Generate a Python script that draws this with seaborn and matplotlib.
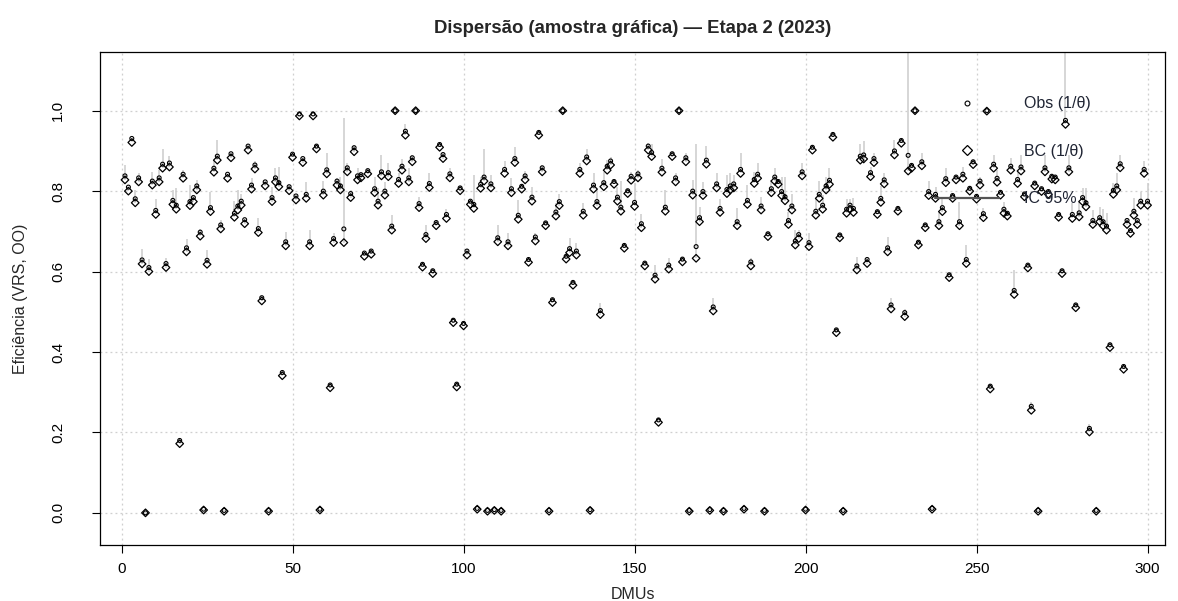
import numpy as np
import pandas as pd
import seaborn as sns
import matplotlib.pyplot as plt
from matplotlib.lines import Line2D

# DMU index 1..300
dmu = list(range(1, 301))

# bias-corrected efficiency (1/theta)
bc = [0.828, 0.800, 0.921, 0.771, 0.823, 0.619, 0.000, 0.600, 0.815, 0.742,
      0.823, 0.857, 0.610, 0.860, 0.767, 0.755, 0.172, 0.832, 0.649, 0.764,
      0.774, 0.803, 0.688, 0.007, 0.618, 0.749, 0.847, 0.877, 0.706, 0.004,
      0.832, 0.883, 0.735, 0.753, 0.765, 0.719, 0.902, 0.805, 0.855, 0.697,
      0.527, 0.813, 0.004, 0.774, 0.823, 0.811, 0.341, 0.664, 0.801, 0.884,
      0.778, 0.987, 0.871, 0.782, 0.664, 0.987, 0.905, 0.007, 0.790, 0.843,
      0.311, 0.672, 0.815, 0.803, 0.672, 0.848, 0.784, 0.898, 0.828, 0.833,
      0.638, 0.843, 0.643, 0.796, 0.765, 0.838, 0.790, 0.836, 0.703, 1.000,
      0.819, 0.852, 0.939, 0.823, 0.873, 1.000, 0.759, 0.611, 0.682, 0.809,
      0.595, 0.714, 0.909, 0.881, 0.732, 0.833, 0.473, 0.313, 0.801, 0.465,
      0.641, 0.767, 0.757, 0.009, 0.807, 0.825, 0.004, 0.808, 0.006, 0.674,
      0.004, 0.844, 0.664, 0.796, 0.871, 0.730, 0.805, 0.828, 0.623, 0.775,
      0.676, 0.939, 0.848, 0.714, 0.004, 0.523, 0.738, 0.764, 1.000, 0.631,
      0.647, 0.566, 0.641, 0.844, 0.740, 0.875, 0.006, 0.805, 0.764, 0.493,
      0.811, 0.852, 0.865, 0.817, 0.775, 0.750, 0.658, 0.794, 0.827, 0.762,
      0.833, 0.709, 0.614, 0.902, 0.886, 0.581, 0.225, 0.847, 0.750, 0.606,
      0.886, 0.823, 1.000, 0.624, 0.873, 0.004, 0.790, 0.633, 0.724, 0.789,
      0.867, 0.006, 0.502, 0.808, 0.747, 0.004, 0.794, 0.803, 0.808, 0.714,
      0.844, 0.009, 0.767, 0.614, 0.819, 0.832, 0.753, 0.004, 0.687, 0.796,
      0.825, 0.817, 0.789, 0.776, 0.717, 0.753, 0.666, 0.682, 0.838, 0.007,
      0.662, 0.902, 0.740, 0.782, 0.755, 0.803, 0.817, 0.934, 0.448, 0.684,
      0.004, 0.745, 0.755, 0.747, 0.604, 0.877, 0.880, 0.620, 0.836, 0.871,
      0.742, 0.772, 0.818, 0.649, 0.507, 0.890, 0.750, 0.919, 0.488, 0.850,
      0.857, 1.000, 0.666, 0.863, 0.709, 0.789, 0.009, 0.782, 0.714, 0.749,
      0.821, 0.585, 0.782, 0.828, 0.714, 0.832, 0.620, 0.800, 0.866, 0.780,
      0.815, 0.734, 0.999, 0.308, 0.857, 0.822, 0.790, 0.745, 0.738, 0.852,
      0.543, 0.819, 0.850, 0.786, 0.609, 0.255, 0.813, 0.004, 0.799, 0.848,
      0.792, 0.830, 0.828, 0.735, 0.595, 0.966, 0.848, 0.732, 0.510, 0.736,
      0.774, 0.761, 0.201, 0.717, 0.004, 0.724, 0.714, 0.703, 0.411, 0.792,
      0.803, 0.858, 0.357, 0.717, 0.695, 0.740, 0.717, 0.765, 0.844, 0.765]

# observed efficiency (1/theta)
obs = [0.838, 0.810, 0.931, 0.781, 0.833, 0.629, 0.000, 0.610, 0.825, 0.752,
       0.833, 0.867, 0.620, 0.870, 0.777, 0.765, 0.180, 0.842, 0.659, 0.774,
       0.784, 0.813, 0.698, 0.009, 0.628, 0.759, 0.857, 0.887, 0.716, 0.006,
       0.842, 0.893, 0.745, 0.763, 0.775, 0.729, 0.912, 0.815, 0.865, 0.707,
       0.535, 0.823, 0.006, 0.784, 0.833, 0.821, 0.349, 0.674, 0.811, 0.892,
       0.788, 0.992, 0.881, 0.792, 0.674, 0.992, 0.912, 0.009, 0.800, 0.853,
       0.318, 0.682, 0.825, 0.813, 0.706, 0.858, 0.794, 0.908, 0.838, 0.841,
       0.646, 0.851, 0.651, 0.806, 0.775, 0.848, 0.800, 0.846, 0.713, 1.000,
       0.829, 0.862, 0.949, 0.833, 0.883, 1.000, 0.769, 0.618, 0.692, 0.819,
       0.602, 0.722, 0.916, 0.891, 0.742, 0.843, 0.479, 0.320, 0.808, 0.471,
       0.651, 0.775, 0.767, 0.011, 0.817, 0.835, 0.006, 0.818, 0.008, 0.684,
       0.006, 0.854, 0.674, 0.806, 0.881, 0.740, 0.812, 0.838, 0.630, 0.785,
       0.686, 0.946, 0.858, 0.721, 0.006, 0.530, 0.748, 0.774, 1.000, 0.638,
       0.657, 0.573, 0.651, 0.854, 0.750, 0.885, 0.008, 0.815, 0.774, 0.503,
       0.821, 0.862, 0.875, 0.824, 0.785, 0.760, 0.665, 0.801, 0.837, 0.772,
       0.843, 0.719, 0.621, 0.912, 0.896, 0.591, 0.231, 0.857, 0.760, 0.616,
       0.893, 0.833, 1.000, 0.631, 0.883, 0.006, 0.800, 0.662, 0.734, 0.799,
       0.877, 0.008, 0.512, 0.818, 0.757, 0.006, 0.804, 0.813, 0.818, 0.724,
       0.854, 0.011, 0.777, 0.624, 0.829, 0.842, 0.763, 0.006, 0.694, 0.806,
       0.835, 0.824, 0.799, 0.786, 0.727, 0.763, 0.676, 0.692, 0.848, 0.009,
       0.672, 0.909, 0.750, 0.792, 0.765, 0.813, 0.827, 0.941, 0.455, 0.691,
       0.006, 0.755, 0.765, 0.757, 0.614, 0.887, 0.890, 0.630, 0.846, 0.881,
       0.749, 0.782, 0.828, 0.659, 0.517, 0.900, 0.757, 0.926, 0.498, 0.889,
       0.864, 1.000, 0.673, 0.873, 0.716, 0.799, 0.011, 0.792, 0.724, 0.759,
       0.831, 0.592, 0.789, 0.835, 0.724, 0.842, 0.630, 0.807, 0.873, 0.787,
       0.825, 0.744, 1.000, 0.315, 0.867, 0.832, 0.797, 0.755, 0.745, 0.862,
       0.553, 0.829, 0.860, 0.793, 0.616, 0.265, 0.820, 0.006, 0.806, 0.858,
       0.799, 0.837, 0.835, 0.742, 0.602, 0.976, 0.858, 0.742, 0.517, 0.746,
       0.784, 0.771, 0.210, 0.727, 0.006, 0.734, 0.724, 0.713, 0.418, 0.802,
       0.813, 0.868, 0.364, 0.727, 0.702, 0.750, 0.727, 0.775, 0.854, 0.775]

# upper bound of the 95% interval (lower bound sits under the BC marker)
ic_hi = [0.865, 0.810, 0.930, 0.803, 0.844, 0.656, 0.005, 0.631, 0.848, 0.780,
         0.852, 0.906, 0.634, 0.888, 0.803, 0.807, 0.180, 0.852, 0.682, 0.815,
         0.790, 0.828, 0.707, 0.010, 0.653, 0.799, 0.877, 0.927, 0.728, 0.008,
         0.840, 0.894, 0.775, 0.803, 0.794, 0.725, 0.915, 0.833, 0.875, 0.732,
         0.535, 0.820, 0.008, 0.811, 0.858, 0.861, 0.350, 0.699, 0.815, 0.890,
         0.790, 0.990, 0.883, 0.822, 0.703, 0.990, 0.910, 0.010, 0.825, 0.894,
         0.318, 0.695, 0.833, 0.836, 0.981, 0.871, 0.803, 0.915, 0.857, 0.840,
         0.645, 0.850, 0.653, 0.836, 0.807, 0.890, 0.823, 0.871, 0.740, 1.000,
         0.844, 0.881, 0.966, 0.857, 0.890, 1.000, 0.786, 0.618, 0.716, 0.844,
         0.600, 0.720, 0.915, 0.898, 0.755, 0.858, 0.478, 0.320, 0.805, 0.470,
         0.655, 0.775, 0.840, 0.012, 0.836, 0.904, 0.008, 0.840, 0.010, 0.717,
         0.008, 0.875, 0.695, 0.832, 0.910, 0.778, 0.810, 0.850, 0.630, 0.811,
         0.695, 0.945, 0.865, 0.720, 0.008, 0.530, 0.770, 0.792, 1.000, 0.637,
         0.684, 0.572, 0.672, 0.869, 0.770, 0.906, 0.010, 0.844, 0.803, 0.523,
         0.848, 0.877, 0.886, 0.823, 0.811, 0.825, 0.665, 0.800, 0.848, 0.819,
         0.852, 0.742, 0.620, 0.919, 0.917, 0.616, 0.230, 0.881, 0.803, 0.634,
         0.892, 0.844, 1.000, 0.630, 0.896, 0.008, 0.828, 0.916, 0.761, 0.822,
         0.913, 0.010, 0.533, 0.846, 0.780, 0.008, 0.840, 0.846, 0.840, 0.757,
         0.894, 0.012, 0.815, 0.634, 0.848, 0.869, 0.786, 0.008, 0.692, 0.828,
         0.857, 0.823, 0.836, 0.836, 0.749, 0.792, 0.703, 0.703, 0.871, 0.010,
         0.695, 0.908, 0.780, 0.825, 0.790, 0.836, 0.857, 0.940, 0.455, 0.690,
         0.008, 0.780, 0.780, 0.783, 0.637, 0.917, 0.925, 0.637, 0.861, 0.894,
         0.748, 0.812, 0.844, 0.687, 0.533, 0.927, 0.756, 0.925, 0.508, 1.200,
         0.865, 1.000, 0.672, 0.894, 0.715, 0.825, 0.012, 0.811, 0.745, 0.786,
         0.857, 0.590, 0.790, 0.835, 0.774, 0.861, 0.666, 0.806, 0.872, 0.786,
         0.836, 0.757, 1.000, 0.315, 0.891, 0.853, 0.796, 0.774, 0.745, 0.883,
         0.604, 0.848, 0.891, 0.792, 0.615, 0.276, 0.820, 0.008, 0.805, 0.890,
         0.800, 0.836, 0.835, 0.742, 0.600, 1.200, 0.890, 0.770, 0.516, 0.774,
         0.807, 0.807, 0.220, 0.753, 0.008, 0.761, 0.755, 0.745, 0.416, 0.819,
         0.844, 0.891, 0.362, 0.732, 0.700, 0.782, 0.736, 0.797, 0.875, 0.819]

df = pd.DataFrame({"dmu": dmu, "bc": bc, "obs": obs, "ic_hi": ic_hi})

sns.set_style("ticks")
plt.rcParams["font.family"] = ["Liberation Sans", "DejaVu Sans"]

fig = plt.figure(figsize=(11.78, 6.01), dpi=100)
ax = fig.add_axes([100 / 1178, 1 - 545 / 601, 1065 / 1178, 493 / 601])

# grid first so it stays behind
ax.grid(True, color="#cfcfcf", linestyle=(0, (1.5, 2.5)), linewidth=0.9)
ax.set_axisbelow(True)

# 95% intervals
ax.vlines(df["dmu"], df["bc"], df["ic_hi"], color="#cccccc", linewidth=1.1, zorder=2)

# BC diamonds and observed circles
sns.scatterplot(data=df, x="dmu", y="bc", marker="D", s=15, facecolor="none",
                edgecolor="black", linewidth=0.9, ax=ax, zorder=3)
sns.scatterplot(data=df, x="dmu", y="obs", marker="o", s=8, facecolor="none",
                edgecolor="black", linewidth=0.8, ax=ax, zorder=4)

ax.set_xlim(-6.3, 305.1)
ax.set_ylim(-0.080, 1.146)
ax.set_xticks([0, 50, 100, 150, 200, 250, 300])
ax.set_yticks([0.0, 0.2, 0.4, 0.6, 0.8, 1.0])
ax.set_yticklabels(["0.0", "0.2", "0.4", "0.6", "0.8", "1.0"], rotation=90, va="center")
ax.tick_params(direction="out", length=6, width=0.8, labelsize=11, colors="black")
ax.tick_params(axis="x", pad=6)
ax.tick_params(axis="y", pad=19)
for sp in ax.spines.values():
    sp.set_visible(True)
    sp.set_color("black")
    sp.set_linewidth(0.9)

ax.set_xlabel("DMUs", fontsize=11.5, labelpad=8)
ax.set_ylabel("Eficiência (VRS, OO)", fontsize=11.5, labelpad=17)
ax.set_title("Dispersão (amostra gráfica) — Etapa 2 (2023)", fontsize=13.3,
             fontweight="bold", pad=14)

handles = [
    Line2D([], [], marker="o", linestyle="none", markerfacecolor="none",
           markeredgecolor="black", markersize=3.5, markeredgewidth=0.8),
    Line2D([], [], marker="D", linestyle="none", markerfacecolor="none",
           markeredgecolor="black", markersize=5.5, markeredgewidth=0.9),
    Line2D([], [], color="#555555", linewidth=1.6),
]
ax.legend(handles, ["Obs (1/θ)", "BC (1/θ)", "IC 95%"], loc="upper left",
          bbox_to_anchor=(0.784, 0.910), frameon=False, fontsize=11.5,
          handlelength=4.0, handletextpad=1.6, labelspacing=2.03,
          borderpad=0, borderaxespad=0, labelcolor="#1f2433")

fig.savefig("out.png", dpi=100)
